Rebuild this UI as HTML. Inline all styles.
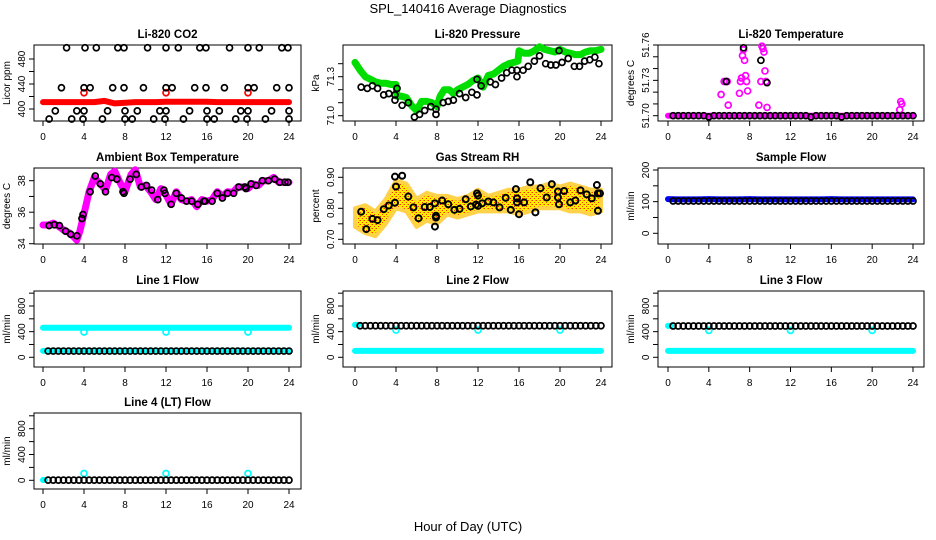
<!DOCTYPE html>
<html><head><meta charset="utf-8">
<style>
html,body{margin:0;padding:0;background:#fff;}
svg{display:block;font-family:"Liberation Sans",Arial,sans-serif;}
</style></head>
<body>
<svg id="chart" width="936" height="540" viewBox="0 0 936 540" xmlns="http://www.w3.org/2000/svg">
<defs>
<pattern id="rhpat" width="4" height="4" patternUnits="userSpaceOnUse">
<rect width="4" height="4" fill="#ffee00"/>
<rect x="0" y="0" width="1" height="1" fill="#ff3000"/>
<rect x="2" y="2" width="1" height="1" fill="#ff3000"/>
<rect x="3" y="0" width="1" height="1" fill="#ff9000"/>
</pattern>
</defs>
<rect width="936" height="540" fill="#fff"/>
<text x="468" y="13" text-anchor="middle" font-size="13">SPL_140416  Average Diagnostics</text>
<text x="468" y="531" text-anchor="middle" font-size="13">Hour of Day (UTC)</text>
</svg>
<script>
// ---------- data ----------
const xTicks = [0,4,8,12,16,20,24];
const halfHours = [0.5,1,1.5,2,2.5,3,3.5,4,4.5,5,5.5,6,6.5,7,7.5,8,8.5,9,9.5,10,10.5,11,11.5,12,12.5,13,13.5,14,14.5,15,15.5,16,16.5,17,17.5,18,18.5,19,19.5,20,20.5,21,21.5,22,22.5,23,23.5,24];
const fullHours = [0,1,2,3,4,5,6,7,8,9,10,11,12,13,14,15,16,17,18,19,20,21,22,23,24];

// CO2
const co2BlackHours = [2.3,4.1,5.2,7.3,7.9,10.2,12.0,13.2,15.3,15.9,18.2,20.0,21.1,23.3,23.9, 1.8,4.0,4.6,6.8,7.9,9.8,12.0,12.6,14.8,15.9,17.7,20.0,20.6,22.8,24.0, 1.2,3.3,4.0,6.3,8.0,9.2,11.4,12.0,14.3,16.0,17.2,19.3,20.0,22.3,24.0, 0.6,2.8,3.9,5.8,8.0,8.7,10.8,11.9,13.7,16.0,16.7,18.8,19.9,21.7,24.0];
const co2BlackValues = [498,498,498,498,498,498,498,498,498,498,498,498,498,498,498, 434,434,434,434,434,434,434,434,434,434,434,434,434,434,434, 397,397,397,397,397,397,397,397,397,397,397,397,397,397,397, 384,384,384,384,384,384,384,384,384,384,384,384,384,384,384];
const co2RedValues = [411,411,411,411,411,411,413,409,410,411,411,411,411.5,411.5,411.5,411.5,411.5,411,411,411,411,411,411,411,411];
const co2SpikeHours = [4,12,20];
const co2SpikeValues = [426,426,426];

// Pressure
const presGreenHours = [0,0.5,1,1.5,2,2.5,3,3.5,4,4.1,4.5,5,5.5,6,6.5,7,7.5,8,8.3,8.7,9.2,9.6,10,10.5,11,11.5,12,12.5,13,13.5,14,14.5,15,15.5,15.9,16,16.5,17,17.5,18,18.5,19,19.5,20,20.5,21,21.5,22,22.5,23,23.5,24];
const presGreenValues = [71.41,71.35,71.30,71.28,71.26,71.25,71.25,71.24,71.24,71.15,71.15,71.14,71.08,71.04,71.11,71.11,71.10,71.07,71.15,71.20,71.20,71.17,71.20,71.22,71.24,71.27,71.29,71.22,71.31,71.32,71.35,71.38,71.40,71.41,71.42,71.50,71.48,71.48,71.50,71.53,71.51,71.50,71.49,71.51,71.49,71.48,71.47,71.47,71.49,71.50,71.50,71.51];
const presBlackHours = [0.6,1.2,1.7,2.2,2.8,3.3,3.9,3.9,4.1,4.6,5.2,5.8,6.3,6.8,7.4,7.9,7.9,8.6,9.1,9.6,10.2,10.8,11.4,11.9,11.9,12.3,13.2,13.7,14.3,14.8,15.3,15.8,15.8,16.4,16.9,17.5,18.0,18.6,19.1,19.6,19.9,20.2,20.8,21.4,21.9,22.4,22.9,23.4,23.8];
const presBlackValues = [71.22,71.21,71.23,71.21,71.16,71.17,71.12,71.16,71.21,71.08,71.10,70.99,71.01,71.04,71.07,71.05,71.01,71.10,71.11,71.12,71.17,71.14,71.18,71.16,71.28,71.23,71.26,71.24,71.29,71.33,71.35,71.30,71.35,71.35,71.38,71.42,71.46,71.40,71.39,71.39,71.50,71.41,71.44,71.38,71.38,71.42,71.43,71.45,71.40];

// Li-820 Temperature
const tempBaseValues = [51.70,51.70,51.70,51.70,51.70,51.70,51.70,51.70,51.70,51.70,51.70,51.70,51.70,51.70,51.70,51.70,51.70,51.70,51.70,51.70,51.70,51.70,51.70,51.70,51.70];
const tempMagHours = [5.2,5.5,5.8,5.9,7.0,7.1,7.2,7.3,7.4,7.5,7.6,7.7,7.8,8.9,9.1,9.2,9.3,9.4,9.5,9.6,9.7,22.7,22.8,22.9];
const tempMagValues = [51.718,51.729,51.729,51.709,51.719,51.729,51.732,51.751,51.756,51.747,51.734,51.729,51.721,51.709,51.729,51.759,51.757,51.754,51.738,51.729,51.707,51.705,51.712,51.710];
const tempBlackHours = [5.7,7.4,9.1,9.7];
const tempBlackValues = [51.729,51.7576,51.747,51.728];
const tempBlackBase = [51.70,51.70,51.70,51.70,51.70,51.70,51.70,51.699,51.70,51.70,51.70,51.70,51.70,51.70,51.70,51.70,51.70,51.70,51.70,51.70,51.70,51.70,51.70,51.70,51.70,51.70,51.70,51.699,51.70,51.70,51.70,51.70,51.70,51.699,51.70,51.70,51.70,51.70,51.70,51.70,51.70,51.70,51.70,51.70,51.70,51.70,51.70,51.70];

// Ambient box temperature
const ambMagHours = [0,0.5,1,1.5,2,2.5,3,3.3,3.6,4,4.5,5,5.6,6.1,6.6,7,7.5,8,8.6,9,9.5,10,10.5,11,11.5,12,12.5,13,13.5,14,14.5,15,15.5,16,16.5,17,17.5,18,18.5,19,19.5,20,20.5,21,21.5,22,22.5,23,23.5,24];
const ambMagValues = [35.19,35.19,35.3,35.12,34.87,34.72,34.44,34.23,34.8,35.9,37.3,38.2,37.8,37.4,38.4,38.6,37.9,37.3,38.4,38.7,37.6,37.7,37.3,36.8,37.5,37.1,36.5,37.3,36.8,36.7,36.8,36.35,36.8,36.7,36.8,37.3,37.0,37.3,37.25,37.6,37.6,37.5,37.8,37.7,38.0,38.0,38.2,37.9,37.9,37.9];
const ambBlackHours = [0.6,1.1,1.6,2.2,2.7,3.3,3.8,3.9,4.6,5.1,5.6,6.1,6.7,7.2,7.8,7.9,8.5,9.1,9.6,10.1,10.6,11.2,11.8,11.9,12.5,13.0,13.5,14.0,14.5,15.1,15.7,15.8,16.5,17.0,17.5,18.0,18.6,19.1,19.7,19.8,20.3,20.8,21.4,22.0,22.6,23.1,23.6,23.9];
const ambBlackValues = [35.15,35.2,35.15,34.8,34.6,34.5,35.6,35.85,37.3,38.3,37.8,37.3,38.2,38.1,37.3,37.2,38.1,38.4,37.6,37.7,37.4,36.8,37.4,37.2,36.5,37.2,36.9,36.7,36.7,36.5,36.7,36.7,36.7,37.2,36.9,37.2,37.2,37.6,37.6,37.5,37.8,37.7,38.0,38.0,38.1,37.9,37.9,37.9];

// Gas stream RH
const rhLow  = [0.74,0.72,0.71,0.75,0.80,0.79,0.74,0.76,0.75,0.78,0.77,0.78,0.79,0.79,0.79,0.79,0.78,0.79,0.80,0.80,0.80,0.79,0.79,0.78,0.79];
const rhHigh = [0.80,0.81,0.79,0.83,0.89,0.88,0.83,0.85,0.84,0.84,0.83,0.84,0.86,0.84,0.85,0.86,0.86,0.87,0.87,0.88,0.87,0.88,0.87,0.86,0.86];
const rhBlackHours = [0.6,1.1,1.7,2.2,2.8,3.3,3.9,3.9,4.0,4.6,5.2,5.7,6.2,6.8,7.3,7.8,7.9,7.8,7.9,8.5,9.1,9.7,10.2,10.8,11.3,11.8,11.9,12.0,12.0,12.4,13.0,13.5,14.1,14.7,15.2,15.7,15.8,15.8,16.0,16.5,17.1,17.6,18.1,18.7,19.2,19.8,19.8,19.9,20.4,21.0,21.5,22.0,22.6,23.1,23.6,23.7,23.7,23.9];
const rhBlackValues = [0.789,0.733,0.766,0.762,0.797,0.809,0.818,0.902,0.870,0.905,0.838,0.803,0.768,0.804,0.804,0.816,0.776,0.741,0.770,0.825,0.813,0.795,0.798,0.829,0.806,0.812,0.848,0.841,0.808,0.816,0.822,0.819,0.803,0.834,0.795,0.862,0.819,0.832,0.781,0.819,0.884,0.787,0.865,0.835,0.878,0.835,0.854,0.813,0.856,0.819,0.825,0.858,0.845,0.832,0.875,0.792,0.848,0.848];

// Sample flow
const sampleBlue = [108,107,107,107,108,107,107,107,108,107,107,107,107,107,107,107,108,107,107,107,107,107,107,107,107];
const sampleBlack = [102,102,102,102,102,102,102,102,102,102,102,102,102,102,102,102,102,102,102,102,102,102,102,102,102,102,102,102,102,102,102,102,102,102,102,102,102,102,102,102,102,102,102,102,102,102,102,102];

// Line flows
const line1Upper = [462,462,462,462,462,462,462,462,462,462,462,462,462,462,462,462,462,462,462,462,462,462,462,462,462];
const line1Lower = [100,100,100,100,100,100,100,100,100,100,100,100,100,100,100,100,100,100,100,100,100,100,100,100,100];
const line1Black = [97,97,97,97,97,97,97,97,97,97,97,97,97,97,97,97,97,97,97,97,97,97,97,97,97,97,97,97,97,97,97,97,97,97,97,97,97,97,97,97,97,97,97,97,97,97,97,97];
const line1DipHours = [4,12,20];
const line1DipValues = [395,395,395];

const line2Upper = [505,505];
const line2UpperHours = [0,0.3];
const line2Lower = [100,100,100,100,100,100,100,100,100,100,100,100,100,100,100,100,100,100,100,100,100,100,100,100,100];
const line2Black = [492,492,492,492,492,492,492,492,492,492,492,492,492,492,492,492,492,492,492,492,492,492,492,492,492,492,492,492,492,492,492,492,492,492,492,492,492,492,492,492,492,492,492,492,492,492,492,492];
const line2DipHours = [4,12,20];
const line2DipValues = [425,425,425];

const line3Upper = [490,490];
const line3UpperHours = [0,0.3];
const line3Lower = [100,100,100,100,100,100,100,100,100,100,100,100,100,100,100,100,100,100,100,100,100,100,100,100,100];
const line3Black = [488,488,488,488,488,488,488,488,488,488,488,488,488,488,488,488,488,488,488,488,488,488,488,488,488,488,488,488,488,488,488,488,488,488,488,488,488,488,488,488,488,488,488,488,488,488,488,488];
const line3DipHours = [4,12,20];
const line3DipValues = [420,420,420];

const line4CyanHours = [0,0.2];
const line4CyanValues = [5,5];
const line4Black = [3,3,3,3,3,3,3,3,3,3,3,3,3,3,3,3,3,3,3,3,3,3,3,3,3,3,3,3,3,3,3,3,3,3,3,3,3,3,3,3,3,3,3,3,3,3,3,3];
const line4SpikeHours = [4,12,20];
const line4SpikeValues = [105,105,105];

// ---------- layout ----------
const NS = "http://www.w3.org/2000/svg";
const svg = document.getElementById('chart');
const cols = [{l:34,r:301,x0:43,x24:289},{l:343,r:612,x0:355,x24:601},{l:658,r:924,x0:668,x24:913}];
const rowTop = [45,168,291,413];
const BOXH = 76;

function mk(tag, attrs, parent){
  const e = document.createElementNS(NS, tag);
  for (const k in attrs) e.setAttribute(k, attrs[k]);
  (parent||svg).appendChild(e);
  return e;
}

function fmt(v, dec){ return dec >= 0 ? v.toFixed(dec) : String(v); }

function panel(name, title, col, row, ylab, yA, yB, yTicks, yLabels, dec){
  const c = cols[col], top = rowTop[row], bot = top + BOXH;
  const g = mk('g', {});
  
  
  const xs = h => c.x0 + (c.x24 - c.x0) * h / 24;
  const ys = v => yA[1] + (v - yA[0]) * (yB[1] - yA[1]) / (yB[0] - yA[0]);
  const t = mk('text', {x:(c.l+c.r)/2, y:top-7, 'text-anchor':'middle', 'font-size':11.5, 'font-weight':'bold'}, g);
  t.textContent = title;
  
  
  const yl = mk('text', {x:0, y:0, 'text-anchor':'middle', 'font-size':10, transform:`translate(${c.l-24},${(top+bot)/2}) rotate(-90)`}, g);
  yl.textContent = ylab;
  
  
  const box = mk('rect', {x:c.l, y:top, width:c.r-c.l, height:BOXH, fill:'none', stroke:'#000', 'stroke-width':1}, g);
  
  
  const xa = mk('g', {}, g);
  
  
  xTicks.forEach(h => {
    mk('line', {x1:xs(h), x2:xs(h), y1:bot, y2:bot+5, stroke:'#000'}, xa);
    const tl = mk('text', {x:xs(h), y:bot+19, 'text-anchor':'middle', 'font-size':10}, xa);
    tl.textContent = h;
    
    
  });
  const ya = mk('g', {}, g);
  
  
  yTicks.forEach(v => {
    mk('line', {x1:c.l-5, x2:c.l, y1:ys(v), y2:ys(v), stroke:'#000'}, ya);
  });
  yLabels.forEach(v => {
    const tl = mk('text', {x:0, y:0, 'text-anchor':'middle', 'font-size':10, transform:`translate(${c.l-9},${ys(v)}) rotate(-90)`}, ya);
    tl.textContent = fmt(v, dec);
    
    
  });
  const marks = mk('g', {}, g);
  
  
  return {xs, ys, g:marks};
}

function pts(P, hours, vals, color, sname, opts){
  opts = opts || {};
  const grp = mk('g', {}, P.g);
  
  
  hours.forEach((h,i) => {
    const c = mk('circle', {cx:P.xs(h), cy:P.ys(vals[i]), r:opts.r||3, fill:opts.fill||'none', stroke:color, 'stroke-width':opts.sw||1.7}, grp);
    
    
  });
}
function band(P, hours, vals, color, sname, w){
  const d = hours.map((h,i) => `${P.xs(h).toFixed(1)},${P.ys(vals[i]).toFixed(1)}`).join(' ');
  const pl = mk('polyline', {points:d, fill:'none', stroke:color, 'stroke-width':w, 'stroke-linejoin':'round', 'stroke-linecap':'round'}, P.g);
  
  
}

// CO2
let P = panel('co2', 'Li-820 CO2', 0, 0, 'Licor ppm', [400,109], [480,59], [400,420,440,460,480], [400,440,480], -1);
band(P, fullHours, co2RedValues, '#ff0000', 'co2-red-series', 6);
pts(P, co2SpikeHours, co2SpikeValues, '#ff0000', 'co2-red-spikes');
pts(P, co2BlackHours, co2BlackValues, '#000', 'co2-black-series');

// Pressure
P = panel('pressure', 'Li-820 Pressure', 1, 0, 'kPa', [71.0,115.7], [71.3,76.7], [71.0,71.1,71.2,71.3,71.4], [71.0,71.3], 1);
band(P, presGreenHours, presGreenValues, '#00dd00', 'pressure-green-series', 7);
pts(P, presBlackHours, presBlackValues, '#000', 'pressure-black-series');

// Li-820 temperature
P = panel('li820-temp', 'Li-820 Temperature', 2, 0, 'degrees C', [51.70,115.7], [51.76,45], [51.70,51.71,51.72,51.73,51.74,51.75,51.76], [51.70,51.73,51.76], 2);
band(P, fullHours, tempBaseValues, '#ff00ff', 'temp-magenta-base', 6);
pts(P, tempMagHours, tempMagValues, '#ff00ff', 'temp-magenta-series');
pts(P, halfHours, tempBlackBase, '#000', 'temp-black-base');
pts(P, tempBlackHours, tempBlackValues, '#000', 'temp-black-series');

// Ambient
P = panel('ambient', 'Ambient Box Temperature', 0, 1, 'degrees C', [34,243.7], [38,180.7], [34,35,36,37,38], [34,36,38], -1);
band(P, ambMagHours, ambMagValues, '#ff00ff', 'ambient-magenta-series', 7);
pts(P, ambBlackHours, ambBlackValues, '#000', 'ambient-black-series');

// RH
P = panel('rh', 'Gas Stream RH', 1, 1, 'percent', [0.70,239.3], [0.90,177.3], [0.70,0.75,0.80,0.85,0.90], [0.70,0.80,0.90], 2);
{
  const up = fullHours.map((h,i)=>`${P.xs(h).toFixed(1)},${P.ys(rhHigh[i]).toFixed(1)}`);
  const lo = fullHours.slice().reverse().map((h,j)=>{const i=fullHours.length-1-j; return `${P.xs(h).toFixed(1)},${P.ys(rhLow[i]).toFixed(1)}`;});
  const poly = mk('polygon', {points:up.concat(lo).join(' '), fill:'url(#rhpat)', stroke:'#ffd24a', 'stroke-width':4, 'stroke-linejoin':'round'}, P.g);
  
  
}
pts(P, rhBlackHours, rhBlackValues, '#000', 'rh-black-series', {sw:2});

// Sample flow
P = panel('sample-flow', 'Sample Flow', 2, 1, 'ml/min', [0,233.3], [200,170], [0,50,100,150,200], [0,100,200], -1);
band(P, fullHours, sampleBlue, '#0000ff', 'sample-blue-series', 6);
pts(P, halfHours, sampleBlack, '#000', 'sample-black-series');

// Line 1
P = panel('line1', 'Line 1 Flow', 0, 2, 'ml/min', [0,357.3], [800,306], [0,200,400,600,800,1000], [0,400,800], -1);
band(P, fullHours, line1Upper, '#00ffff', 'line1-cyan-upper', 6);
band(P, fullHours, line1Lower, '#00ffff', 'line1-cyan-lower', 6);
pts(P, line1DipHours, line1DipValues, '#00ffff', 'line1-cyan-dips');
pts(P, halfHours, line1Black, '#000', 'line1-black-series');

// Line 2
P = panel('line2', 'Line 2 Flow', 1, 2, 'ml/min', [0,357.3], [800,306], [0,200,400,600,800,1000], [0,400,800], -1);
band(P, line2UpperHours, line2Upper, '#00ffff', 'line2-cyan-upper', 6);
band(P, fullHours, line2Lower, '#00ffff', 'line2-cyan-lower', 6);
pts(P, line2DipHours, line2DipValues, '#00ffff', 'line2-cyan-dips');
pts(P, halfHours, line2Black, '#000', 'line2-black-series');

// Line 3
P = panel('line3', 'Line 3 Flow', 2, 2, 'ml/min', [0,357.3], [800,306], [0,200,400,600,800,1000], [0,400,800], -1);
band(P, line3UpperHours, line3Upper, '#00ffff', 'line3-cyan-upper', 6);
band(P, fullHours, line3Lower, '#00ffff', 'line3-cyan-lower', 6);
pts(P, line3DipHours, line3DipValues, '#00ffff', 'line3-cyan-dips');
pts(P, halfHours, line3Black, '#000', 'line3-black-series');

// Line 4
P = panel('line4', 'Line 4 (LT) Flow', 0, 3, 'ml/min', [0,480.3], [800,428.7], [0,200,400,600,800,1000], [0,400,800], -1);
band(P, line4CyanHours, line4CyanValues, '#00ffff', 'line4-cyan-start', 6);
pts(P, line4SpikeHours, line4SpikeValues, '#00ffff', 'line4-cyan-spikes');
pts(P, halfHours, line4Black, '#000', 'line4-black-series');
</script>
</body></html>
